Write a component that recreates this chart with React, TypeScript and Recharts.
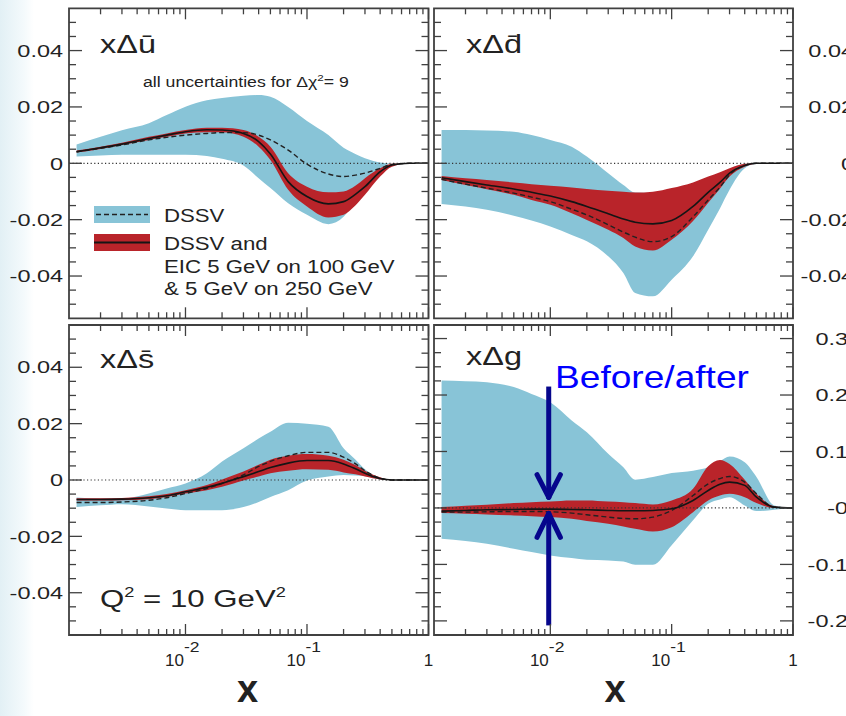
import React from "react";
import {
  ComposedChart,
  Area,
  Line,
  XAxis,
  YAxis,
  ReferenceLine,
  ReferenceArea,
  Legend,
} from "recharts";

// sample points in x (log axis)
const xs = [0.00127, 0.002, 0.003, 0.005, 0.007, 0.01, 0.015, 0.02, 0.03, 0.04, 0.05, 0.07, 0.1, 0.15, 0.2, 0.25, 0.3, 0.4, 0.5, 0.7, 1];

// x Delta ubar
const ubarBlueLo = [0.0024, 0.0028, 0.003, 0.003, 0.003, 0.003, 0.0026, 0.0016, -0.0008, -0.0053, -0.0088, -0.0142, -0.0183, -0.0216, -0.019, -0.013, -0.009, -0.0025, 0, 0, 0];
const ubarBlueHi = [0.0067, 0.0094, 0.0117, 0.0142, 0.0171, 0.0201, 0.0224, 0.0232, 0.024, 0.0242, 0.0236, 0.02, 0.015, 0.01, 0.0055, 0.0033, 0.0018, 0.0003, 0, 0, 0];
const ubarRedLo = [0.0038, 0.0051, 0.0065, 0.0083, 0.0094, 0.0106, 0.011, 0.011, 0.0094, 0.0059, 0.0012, -0.0094, -0.0153, -0.0192, -0.0183, -0.015, -0.0112, -0.0047, -0.0012, 0, 0];
const ubarRedHi = [0.0045, 0.0059, 0.0073, 0.0094, 0.0106, 0.0118, 0.0126, 0.0126, 0.0118, 0.0094, 0.0059, -0.0035, -0.0083, -0.0103, -0.01, -0.008, -0.0053, -0.0018, -0.0002, 0, 0];
const ubarDssv = [0.0041, 0.0053, 0.0065, 0.0083, 0.0092, 0.01, 0.0106, 0.0109, 0.0109, 0.01, 0.0083, 0.0047, -0.0003, -0.0038, -0.0047, -0.0042, -0.0035, -0.0018, -0.0004, 0, 0];
const ubarEic = [0.0041, 0.0055, 0.0068, 0.0088, 0.01, 0.0112, 0.0119, 0.0118, 0.0106, 0.0077, 0.0033, -0.0065, -0.0118, -0.0144, -0.0136, -0.011, -0.0083, -0.003, -0.0006, 0, 0];

// x Delta dbar
const dbarBlueLo = [-0.0144, -0.0153, -0.0165, -0.0186, -0.0203, -0.0224, -0.0254, -0.0277, -0.033, -0.0389, -0.046, -0.0472, -0.0413, -0.033, -0.0236, -0.016, -0.0094, -0.0018, -0.0002, 0, 0];
const dbarBlueHi = [0.0118, 0.0118, 0.0116, 0.0112, 0.01, 0.0083, 0.0059, 0.0024, -0.0035, -0.0077, -0.0104, -0.0105, -0.0092, -0.0072, -0.005, -0.0035, -0.002, -0.0002, 0, 0, 0];
const dbarRedLo = [-0.0059, -0.0077, -0.0092, -0.0112, -0.013, -0.0147, -0.0177, -0.0201, -0.0236, -0.0265, -0.0295, -0.0309, -0.0271, -0.0205, -0.014, -0.009, -0.0047, -0.0012, -0.0002, 0, 0];
const dbarRedHi = [-0.0045, -0.0053, -0.0059, -0.0068, -0.0074, -0.008, -0.0086, -0.0091, -0.0097, -0.0101, -0.0104, -0.0101, -0.0088, -0.0068, -0.0047, -0.0032, -0.0018, -0.0002, 0, 0, 0];
const dbarDssv = [-0.0057, -0.0074, -0.0088, -0.0106, -0.012, -0.0136, -0.0163, -0.0183, -0.0218, -0.0244, -0.0262, -0.0278, -0.026, -0.019, -0.013, -0.0085, -0.0041, -0.0008, 0, 0, 0];
const dbarEic = [-0.0051, -0.0065, -0.0077, -0.0091, -0.0103, -0.0116, -0.0136, -0.0153, -0.0179, -0.0198, -0.0209, -0.0215, -0.0203, -0.0153, -0.0103, -0.0068, -0.0035, -0.0008, 0, 0, 0];

// x Delta sbar
const sbarBlueLo = [-0.0096, -0.009, -0.0086, -0.0094, -0.0101, -0.0107, -0.0107, -0.0107, -0.0096, -0.0078, -0.006, -0.0036, -0.0002, 0.0012, 0.0018, 0.0016, 0.0014, 0.0002, 0, 0, 0];
const sbarBlueHi = [-0.0062, -0.0066, -0.0066, -0.0048, -0.003, -0.0012, 0.0024, 0.0066, 0.0113, 0.0147, 0.0171, 0.0203, 0.02, 0.0189, 0.0113, 0.0073, 0.0038, 0.0007, 0, 0, 0];
const sbarRedLo = [-0.0073, -0.0073, -0.0072, -0.0068, -0.006, -0.0048, -0.0036, -0.0024, -0.0002, 0.0012, 0.0024, 0.0033, 0.0038, 0.0036, 0.0027, 0.002, 0.0012, 0.0002, 0, 0, 0];
const sbarRedHi = [-0.0065, -0.0065, -0.0064, -0.0058, -0.005, -0.0036, -0.0018, 0.0002, 0.003, 0.0054, 0.0072, 0.0086, 0.0092, 0.0086, 0.0072, 0.0053, 0.0033, 0.001, 0, 0, 0];
const sbarDssv = [-0.008, -0.008, -0.0078, -0.0072, -0.0063, -0.0048, -0.003, -0.0012, 0.0018, 0.0048, 0.0066, 0.0086, 0.0098, 0.0098, 0.0081, 0.0058, 0.0033, 0.0006, 0, 0, 0];
const sbarEic = [-0.0069, -0.0069, -0.0068, -0.0063, -0.0056, -0.0042, -0.0026, -0.0012, 0.0012, 0.003, 0.0044, 0.006, 0.0069, 0.0069, 0.0057, 0.004, 0.0024, 0.0005, 0, 0, 0];

// x Delta g
const gBlueLo = [-0.0546, -0.0587, -0.0634, -0.0723, -0.0782, -0.084, -0.0888, -0.0917, -0.0929, -0.095, -0.1006, -0.1006, -0.066, -0.022, 0.0074, 0.015, 0.019, 0.0044, -0.0056, -0.003, 0];
const gBlueHi = [0.2257, 0.2245, 0.2227, 0.214, 0.202, 0.187, 0.155, 0.134, 0.096, 0.072, 0.05, 0.0546, 0.0617, 0.066, 0.072, 0.083, 0.091, 0.081, 0.055, 0.0044, 0];
const gRedLo = [-0.0091, -0.0103, -0.0115, -0.0133, -0.0145, -0.0162, -0.0192, -0.0233, -0.028, -0.0327, -0.0369, -0.0416, -0.034, -0.0074, 0.0133, 0.022, 0.025, 0.019, 0.0086, 0, 0];
const gRedHi = [0.0015, 0.0038, 0.0056, 0.0086, 0.0103, 0.0115, 0.0133, 0.0133, 0.0115, 0.0103, 0.0086, 0.0062, 0.0133, 0.034, 0.074, 0.085, 0.078, 0.05, 0.025, 0.003, 0];
const gDssv = [-0.0074, -0.0074, -0.0068, -0.0062, -0.0062, -0.0068, -0.0091, -0.0121, -0.0162, -0.0186, -0.0192, -0.0162, -0.0044, 0.022, 0.0428, 0.052, 0.0558, 0.0457, 0.025, 0.0015, 0];
const gEic = [-0.0056, -0.0044, -0.0032, -0.0027, -0.0021, -0.0021, -0.0027, -0.0032, -0.0044, -0.005, -0.005, -0.0044, -0.0015, 0.0133, 0.031, 0.042, 0.0457, 0.04, 0.019, 0.0015, 0];

// axes
const xDomain = [0.0011, 1];
const xTicks = [0.002, 0.003, 0.004, 0.005, 0.006, 0.007, 0.008, 0.009, 0.01, 0.02, 0.03, 0.04, 0.05, 0.06, 0.07, 0.08, 0.09, 0.1, 0.2, 0.3, 0.4, 0.5, 0.6, 0.7, 0.8, 0.9, 1];
const xMajor = [0.01, 0.1, 1];
const xMajorBase = ["10", "10", "1"];
const xMajorExp = ["-2", "-1", ""];

const seaDomain = [-0.055, 0.055];
const seaTicks = [-0.05, -0.045, -0.04, -0.035, -0.03, -0.025, -0.02, -0.015, -0.01, -0.005, 0, 0.005, 0.01, 0.015, 0.02, 0.025, 0.03, 0.035, 0.04, 0.045, 0.05];
const seaMajor = [-0.04, -0.02, 0, 0.02, 0.04];
const seaLabels = ["-0.04", "-0.02", "0", "0.02", "0.04"];

const gDomain = [-0.225, 0.324];
const gTicks = [-0.2, -0.175, -0.15, -0.125, -0.1, -0.075, -0.05, -0.025, 0, 0.025, 0.05, 0.075, 0.1, 0.125, 0.15, 0.175, 0.2, 0.225, 0.25, 0.275, 0.3];
const gMajor = [-0.2, -0.1, 0, 0.1, 0.2, 0.3];
const gLabels = ["-0.2", "-0.1", "-0", "0.1", "0.2", "0.3"];

// before/after arrows on the gluon panel
const arrowX = 0.0097;
const arrowWingX = [0.00777, 0.01211];
const upperArrow = { top: 0.215, tip: 0.0186, wing: 0.059 };
const lowerArrow = { bottom: -0.208, tip: -0.0097, wing: -0.052 };

const W = 846;
const H = 716;
const BLUE = "#88c4d7";
const RED = "#b9242a";
const INK = "#222";
const FRAME = "#404040";
const NAVY = "#06068c";
const FONT = "'Liberation Sans', Arial, Helvetica, sans-serif";

const makeRows = (bLo: number[], bHi: number[], rLo: number[], rHi: number[], dssv: number[], eic: number[]) =>
  xs.map((x, i) => ({ x, blue: [bLo[i], bHi[i]], red: [rLo[i], rHi[i]], dssv: dssv[i], eic: eic[i] }));

const ubarRows = makeRows(ubarBlueLo, ubarBlueHi, ubarRedLo, ubarRedHi, ubarDssv, ubarEic);
const dbarRows = makeRows(dbarBlueLo, dbarBlueHi, dbarRedLo, dbarRedHi, dbarDssv, dbarEic);
const sbarRows = makeRows(sbarBlueLo, sbarBlueHi, sbarRedLo, sbarRedHi, sbarDssv, sbarEic);
const gRows = makeRows(gBlueLo, gBlueHi, gRedLo, gRedHi, gDssv, gEic);

const near = (a: number, b: number) => Math.abs(a - b) < 1e-9;

type Box = { l: number; r: number; t: number; b: number };

const Panel = ({
  data,
  box,
  yDomain,
  yTicks,
  yMajor,
  yLabels,
  labelSide,
  labelEdge,
  showX,
  extra,
  legend,
}: {
  data: any[];
  box: Box;
  yDomain: number[];
  yTicks: number[];
  yMajor: number[];
  yLabels: string[];
  labelSide: "left" | "right";
  labelEdge: number;
  showX: boolean;
  extra?: any;
  legend?: any;
}) => {
  const pw = box.r - box.l;
  const ph = box.b - box.t;

  // bottom axis: draw inward ticks at bottom and top edge of the frame
  const xTick = (p: any) => {
    const { x, y, payload } = p;
    const mi = xMajor.findIndex((m) => near(m, payload.value));
    const len = mi >= 0 ? 11 : 6;
    return (
      <g>
        <line x1={x} y1={y} x2={x} y2={y - len} stroke={FRAME} strokeWidth={1.3} />
        <line x1={x} y1={y - ph} x2={x} y2={y - ph + len} stroke={FRAME} strokeWidth={1.3} />
        {showX && mi >= 0 && xMajorExp[mi] !== "" && (
          <>
            <text x={x - 1.5} y={y + 30.5} textAnchor="end" fontSize={17} fill={INK} fontFamily={FONT}>
              {xMajorBase[mi]}
            </text>
            <text
              transform={`translate(${x - 1.5},${y + 16.5}) scale(1.25,1)`}
              textAnchor="start"
              fontSize={14}
              fill={INK}
              fontFamily={FONT}
            >
              {xMajorExp[mi]}
            </text>
          </>
        )}
        {showX && mi >= 0 && xMajorExp[mi] === "" && (
          <text x={x} y={y + 30.5} textAnchor="middle" fontSize={17} fill={INK} fontFamily={FONT}>
            {xMajorBase[mi]}
          </text>
        )}
      </g>
    );
  };

  // left axis: inward ticks on both sides, labels on one side
  const yTick = (p: any) => {
    const { x, y, payload } = p;
    const mi = yMajor.findIndex((m) => near(m, payload.value));
    const len = mi >= 0 ? 13 : 7;
    const lx = labelSide === "left" ? x - labelEdge : x + pw + labelEdge;
    return (
      <g>
        <line x1={x} y1={y} x2={x + len} y2={y} stroke={FRAME} strokeWidth={1.3} />
        <line x1={x + pw} y1={y} x2={x + pw - len} y2={y} stroke={FRAME} strokeWidth={1.3} />
        {mi >= 0 && (
          <text
            transform={`translate(${lx},${y + 6.2}) scale(1.38,1)`}
            textAnchor="end"
            fontSize={17}
            fill={INK}
            fontFamily={FONT}
          >
            {yLabels[mi]}
          </text>
        )}
      </g>
    );
  };

  return (
    <div style={{ position: "absolute", left: 0, top: 0 }}>
      <ComposedChart
        width={W}
        height={H}
        data={data}
        margin={{ top: box.t, left: box.l - 1, right: W - box.r, bottom: H - box.b - 1 }}
      >
        <XAxis
          dataKey="x"
          type="number"
          scale="log"
          domain={xDomain}
          allowDataOverflow
          ticks={xTicks}
          interval={0}
          tick={xTick}
          tickLine={false}
          axisLine={false}
          tickSize={0}
          tickMargin={0}
          height={1}
        />
        <YAxis
          type="number"
          domain={yDomain}
          allowDataOverflow
          ticks={yTicks}
          interval={0}
          tick={yTick}
          tickLine={false}
          axisLine={false}
          tickSize={0}
          tickMargin={0}
          width={1}
        />
        <Area dataKey="blue" type="monotone" fill={BLUE} fillOpacity={1} stroke="none" isAnimationActive={false} />
        <Area dataKey="red" type="monotone" fill={RED} fillOpacity={1} stroke="none" isAnimationActive={false} />
        <ReferenceLine y={0} stroke="#333" strokeWidth={1.2} strokeDasharray="1.2 2.4" />
        <Line
          dataKey="dssv"
          type="monotone"
          stroke="#222"
          strokeWidth={1.4}
          strokeDasharray="5 3"
          dot={false}
          isAnimationActive={false}
        />
        <Line dataKey="eic" type="monotone" stroke="#151515" strokeWidth={1.6} dot={false} isAnimationActive={false} />
        <ReferenceArea
          x1={xDomain[0]}
          x2={xDomain[1]}
          y1={yDomain[0]}
          y2={yDomain[1]}
          fill="none"
          fillOpacity={0}
          stroke={FRAME}
          strokeWidth={1.8}
          ifOverflow="visible"
        />
        {extra}
        {legend}
      </ComposedChart>
    </div>
  );
};

const LegendBox = () => (
  <svg width={430} height={320} style={{ display: "block" }}>
    <rect x={94} y={206} width={56} height={17} fill={BLUE} />
    <line x1={96} y1={214.5} x2={148} y2={214.5} stroke="#222" strokeWidth={1.4} strokeDasharray="5 3" />
    <rect x={94} y={234} width={56} height={17} fill={RED} />
    <line x1={94} y1={242.5} x2={150} y2={242.5} stroke="#151515" strokeWidth={1.8} />
    {["DSSV", "DSSV and", "EIC 5 GeV on 100 GeV", "& 5 GeV on 250 GeV"].map((t, i) => (
      <text
        key={t}
        transform={`translate(164,${[221.7, 250, 272.7, 295.3][i]}) scale(1.2,1)`}
        fontSize={18.5}
        fill={INK}
        fontFamily={FONT}
      >
        {t}
      </text>
    ))}
  </svg>
);

const S = ({ x, y, size, sx = 1, anchor = "start", weight = 400, fill = INK, children }: any) => (
  <text
    transform={`translate(${x},${y}) scale(${sx},1)`}
    fontSize={size}
    textAnchor={anchor}
    fontWeight={weight}
    fill={fill}
    fontFamily={FONT}
  >
    {children}
  </text>
);

const gArrows = [
  <ReferenceLine
    key="u1"
    segment={[{ x: arrowX, y: upperArrow.top }, { x: arrowX, y: upperArrow.tip }]}
    stroke={NAVY}
    strokeWidth={5}
    ifOverflow="visible"
  />,
  <ReferenceLine
    key="u2"
    segment={[{ x: arrowWingX[0], y: upperArrow.wing }, { x: arrowX, y: upperArrow.tip }]}
    stroke={NAVY}
    strokeWidth={5}
    strokeLinecap="round"
    ifOverflow="visible"
  />,
  <ReferenceLine
    key="u3"
    segment={[{ x: arrowWingX[1], y: upperArrow.wing }, { x: arrowX, y: upperArrow.tip }]}
    stroke={NAVY}
    strokeWidth={5}
    strokeLinecap="round"
    ifOverflow="visible"
  />,
  <ReferenceLine
    key="l1"
    segment={[{ x: arrowX, y: lowerArrow.bottom }, { x: arrowX, y: lowerArrow.tip }]}
    stroke={NAVY}
    strokeWidth={5}
    ifOverflow="visible"
  />,
  <ReferenceLine
    key="l2"
    segment={[{ x: arrowWingX[0], y: lowerArrow.wing }, { x: arrowX, y: lowerArrow.tip }]}
    stroke={NAVY}
    strokeWidth={5}
    strokeLinecap="round"
    ifOverflow="visible"
  />,
  <ReferenceLine
    key="l3"
    segment={[{ x: arrowWingX[1], y: lowerArrow.wing }, { x: arrowX, y: lowerArrow.tip }]}
    stroke={NAVY}
    strokeWidth={5}
    strokeLinecap="round"
    ifOverflow="visible"
  />,
];

export default function App() {
  return (
    <div
      style={{
        position: "absolute",
        left: 0,
        top: 0,
        width: W,
        height: H,
        overflow: "hidden",
        background: "linear-gradient(90deg, #e2f0f5 0px, #f4fafc 24px, #ffffff 34px)",
      }}
    >
      <Panel
        data={ubarRows}
        box={{ l: 69, r: 428.5, t: 8.3, b: 318.3 }}
        yDomain={seaDomain}
        yTicks={seaTicks}
        yMajor={seaMajor}
        yLabels={seaLabels}
        labelSide="left"
        labelEdge={6}
        showX={false}
        legend={
          <Legend
            layout="vertical"
            align="center"
            verticalAlign="middle"
            wrapperStyle={{ left: 0, top: 0, width: 430, height: 320, pointerEvents: "none" }}
            content={() => <LegendBox />}
          />
        }
      />
      <Panel
        data={dbarRows}
        box={{ l: 434, r: 793, t: 8.3, b: 318.3 }}
        yDomain={seaDomain}
        yTicks={seaTicks}
        yMajor={seaMajor}
        yLabels={seaLabels}
        labelSide="right"
        labelEdge={61}
        showX={false}
      />
      <Panel
        data={sbarRows}
        box={{ l: 69, r: 428.5, t: 325, b: 635 }}
        yDomain={seaDomain}
        yTicks={seaTicks}
        yMajor={seaMajor}
        yLabels={seaLabels}
        labelSide="left"
        labelEdge={6}
        showX={true}
      />
      <Panel
        data={gRows}
        box={{ l: 434, r: 793, t: 325, b: 635 }}
        yDomain={gDomain}
        yTicks={gTicks}
        yMajor={gMajor}
        yLabels={gLabels}
        labelSide="right"
        labelEdge={55}
        showX={true}
        extra={gArrows}
      />
      <svg width={W} height={H} style={{ position: "absolute", left: 0, top: 0, pointerEvents: "none" }}>
        <S x={100} y={52.7} size={26} sx={1.25}>
          {"x\u0394\u016B"}
        </S>
        <S x={466} y={52.7} size={26} sx={1.25}>
          {"x\u0394d\u0304"}
        </S>
        <S x={100} y={368} size={26} sx={1.25}>
          {"x\u0394s\u0304"}
        </S>
        <S x={466} y={365} size={26} sx={1.25}>
          {"x\u0394g"}
        </S>
        <S x={143} y={86.5} size={14.5} sx={1.22}>
          {"all uncertainties for \u0394\u03C7"}
          <tspan dy={-6} fontSize={9.5}>
            2
          </tspan>
          <tspan dy={6}>= 9</tspan>
        </S>
        <S x={100} y={607.3} size={24} sx={1.3}>
          Q
          <tspan dy={-10} fontSize={14}>
            2
          </tspan>
          <tspan dy={10}> = 10 GeV</tspan>
          <tspan dy={-10} fontSize={14}>
            2
          </tspan>
        </S>
        <S x={247.5} y={701.5} size={38} weight={700} anchor="middle">
          x
        </S>
        <S x={615} y={701.5} size={38} weight={700} anchor="middle">
          x
        </S>
        <S x={555} y={388.3} size={32} sx={1.16} fill="#0000ff">
          Before/after
        </S>
      </svg>
    </div>
  );
}
